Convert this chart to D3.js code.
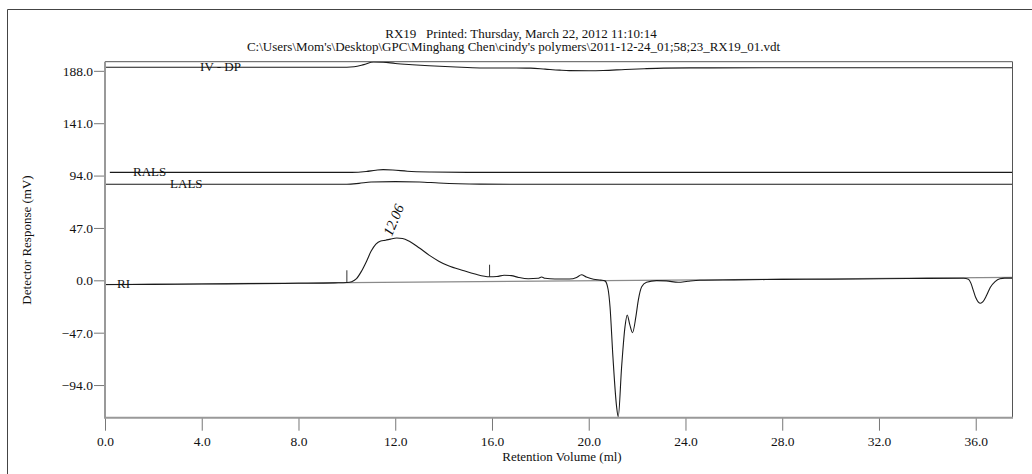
<!DOCTYPE html>
<html>
<head>
<meta charset="utf-8">
<script src="https://cdn.jsdelivr.net/npm/d3@7/dist/d3.min.js"></script>
<style>
  html, body { margin: 0; padding: 0; background: #fff; }
  svg { display: block; }
  text { font-family: "Liberation Serif", "Times New Roman", serif; fill: #111; }
</style>
</head>
<body>
<svg id="chart" width="1032" height="474"></svg>
<script>
// ---------- data ----------
const titleLines = [
  "RX19   Printed: Thursday, March 22, 2012 11:10:14",
  "C:\\Users\\Mom's\\Desktop\\GPC\\Minghang Chen\\cindy's polymers\\2011-12-24_01;58;23_RX19_01.vdt"
];
const xTicks = [0, 4, 8, 12, 16, 20, 24, 28, 32, 36];
const yTicks = [188, 141, 94, 47, 0, -47, -94];
const xLabel = "Retention Volume (ml)";
const yLabel = "Detector Response (mV)";

// IV - DP trace [ml, mV]
const ivdp = [[0,191.2],[4,191.2],[8,191.2],[10.0,191.2],[10.3,191.6],[10.7,193.6],[11.1,196.0],[11.5,195.8],
  [12.0,194.6],[12.7,193.5],[13.4,192.6],[14.5,191.4],[15.5,190.6],[17.0,190.5],[17.6,190.4],[18.2,189.5],
  [18.8,188.6],[19.2,188.2],[20.0,188.1],[20.6,188.3],[21.5,189.2],[22.3,189.9],[23.1,190.4],[25,190.7],
  [30,190.8],[37.5,190.8]];
// RALS trace
const rals = [[0.2,96.9],[5,96.9],[10.2,96.9],[10.8,97.7],[11.2,98.8],[11.5,99.3],[11.9,99.0],[12.5,97.9],
  [13.5,97.2],[15,96.9],[25,96.9],[37.5,96.9]];
// LALS trace
const lals = [[0,86.2],[5,86.2],[10.0,86.2],[10.5,87.0],[11.0,88.2],[12.0,88.6],[13.0,88.3],[13.8,87.3],
  [14.6,86.6],[15.5,86.3],[20,86.2],[37.5,86.2]];
// RI trace
const ri = [[0,-3.8],[2,-3.6],[4,-3.3],[6,-3.0],[8,-2.7],[9.5,-2.3],[10.0,-2.0],[10.2,-1.2],[10.4,1.5],
  [10.6,8],[10.8,16.5],[11.0,26],[11.2,32.5],[11.4,35.3],[11.6,36.0],[11.8,37.0],[12.06,38.0],[12.3,37.6],
  [12.6,34.8],[13.0,29.0],[13.4,22.6],[13.8,17.2],[14.2,13.0],[14.8,8.8],[15.3,5.6],[15.9,3.2],[16.2,3.4],
  [16.5,4.6],[16.8,4.2],[17.1,2.6],[17.5,1.4],[17.9,1.8],[18.05,3.0],[18.2,1.8],[18.6,1.2],[19.2,1.2],
  [19.5,2.6],[19.7,5.0],[19.9,3.0],[20.2,1.0],[20.5,0.2],[20.67,-0.5],[20.8,-8],[20.88,-23.7],[21.0,-68.6],
  [21.15,-113],[21.22,-122.4],[21.36,-77.5],[21.5,-41.6],[21.59,-31.1],[21.7,-40],[21.81,-47],[21.95,-32.6],
  [22.05,-17.7],[22.19,-5.7],[22.39,-1.8],[22.8,-0.3],[23.2,-0.5],[23.7,-1.8],[24.1,-0.8],[24.6,0.1],
  [26,0.4],[28,0.8],[30,1.0],[32,1.4],[34,1.7],[35.5,1.8],[35.7,1.0],[35.8,-2.5],[35.9,-9],[36.0,-15.5],
  [36.1,-19.3],[36.2,-20.6],[36.3,-19.2],[36.45,-13.5],[36.6,-6.5],[36.8,-1.2],[37.0,1.4],[37.2,2.0],[37.5,2.0]];
// RI integration baseline
const riBaseline = [[0,-3.8],[37.5,2.6]];
// integration markers [ml, low mV, high mV]
const markers = [[10.0,-1.6,9.0],[15.9,3.0,14.0]];
// peak label
const peakLabel = {x: 12.06, text: "12.06"};
// trace labels [name, ml at label start, trace level mV]
const traceLabels = [["IV - DP", 3.93, 191.2],["RALS", 1.16, 96.9],["LALS", 2.69, 86.2],["RI", 0.5, -3.8]];

// ---------- layout ----------
const svg = d3.select("#chart");
const L = 105, R = 1012, T = 61.7, B = 417.7;
const x = d3.scaleLinear().domain([0, 37.5]).range([L, R]);
const y = d3.scaleLinear().domain([-123.3, 196.2]).range([B, T]);

// outer frame
svg.append("line").attr("x1", 7.5).attr("x2", 7.5).attr("y1", 9.5).attr("y2", 474).attr("stroke", "#444").attr("stroke-width", 1);
svg.append("line").attr("x1", 7.5).attr("x2", 1032).attr("y1", 9.5).attr("y2", 9.5).attr("stroke", "#444").attr("stroke-width", 1);

// titles
svg.append("text").attr("x", 521).attr("y", 37.5).attr("text-anchor", "middle")
  .attr("font-size", 13).attr("xml:space", "preserve").style("white-space", "pre").text(titleLines[0]);
svg.append("text").attr("x", 513.5).attr("y", 50.5).attr("text-anchor", "middle")
  .attr("font-size", 13).text(titleLines[1]);

// plot box: top/right thin dark
svg.append("line").attr("x1", L).attr("x2", R + 0.5).attr("y1", T).attr("y2", T).attr("stroke", "#555").attr("stroke-width", 1);
svg.append("line").attr("x1", R + 0.5).attr("x2", R + 0.5).attr("y1", T).attr("y2", B).attr("stroke", "#555").attr("stroke-width", 1);

// clip
svg.append("defs").append("clipPath").attr("id", "clip")
  .append("rect").attr("x", L).attr("y", T).attr("width", R - L).attr("height", B - T);

const g = svg.append("g").attr("clip-path", "url(#clip)");
const line = d3.line().x(d => x(d[0])).y(d => y(d[1])).curve(d3.curveMonotoneX);

// RI baseline
g.append("path").datum(riBaseline).attr("d", d3.line().x(d => x(d[0])).y(d => y(d[1])))
  .attr("fill", "none").attr("stroke", "#8a8a8a").attr("stroke-width", 1.2);

[ivdp, rals, lals, ri].forEach(s => {
  g.append("path").datum(s).attr("d", line).attr("fill", "none").attr("stroke", "#1a1a1a").attr("stroke-width", 1.1);
});

// markers
markers.forEach(m => {
  g.append("line").attr("x1", x(m[0])).attr("x2", x(m[0])).attr("y1", y(m[1])).attr("y2", y(m[2]))
    .attr("stroke", "#333").attr("stroke-width", 1);
});

// trace labels
traceLabels.forEach(t => {
  svg.append("text").attr("x", x(t[1])).attr("y", y(t[2])).attr("dy", "0.3em")
    .attr("font-size", 13).text(t[0]);
});

// peak label
svg.append("text").attr("font-size", 14.5).attr("font-style", "italic")
  .attr("transform", `translate(${x(peakLabel.x) - 5},${y(38) - 1}) rotate(-67)`)
  .text(peakLabel.text);

// axes
const yAxis = d3.axisLeft(y).tickValues(yTicks).tickSize(11).tickPadding(1).tickFormat(d3.format(".1f"));
const ya = svg.append("g").attr("transform", `translate(${L},0)`).call(yAxis);
ya.select(".domain").remove();
ya.selectAll("line").attr("stroke", "#777").attr("stroke-width", 1);
ya.selectAll("text").attr("font-size", 13.5).attr("font-family", "Liberation Serif, Times New Roman, serif").attr("fill", "#111");

const xAxis = d3.axisBottom(x).tickValues(xTicks).tickSize(13).tickPadding(6).tickFormat(d3.format(".1f"));
const xa = svg.append("g").attr("transform", `translate(0,${B})`).call(xAxis);
xa.select(".domain").remove();
xa.selectAll("line").attr("stroke", "#777").attr("stroke-width", 1);
xa.selectAll("text").attr("font-size", 13.5).attr("font-family", "Liberation Serif, Times New Roman, serif").attr("fill", "#111");

// axis lines (gray, thicker)
svg.append("line").attr("x1", L).attr("x2", L).attr("y1", T).attr("y2", B + 1).attr("stroke", "#999").attr("stroke-width", 2);
svg.append("line").attr("x1", L).attr("x2", R + 1).attr("y1", B).attr("y2", B).attr("stroke", "#999").attr("stroke-width", 2);

// axis titles
svg.append("text").attr("x", 562).attr("y", 461).attr("text-anchor", "middle").attr("font-size", 13).text(xLabel);
svg.append("text").attr("transform", "translate(31,240) rotate(-90)").attr("text-anchor", "middle")
  .attr("font-size", 13).text(yLabel);
</script>
</body>
</html>
